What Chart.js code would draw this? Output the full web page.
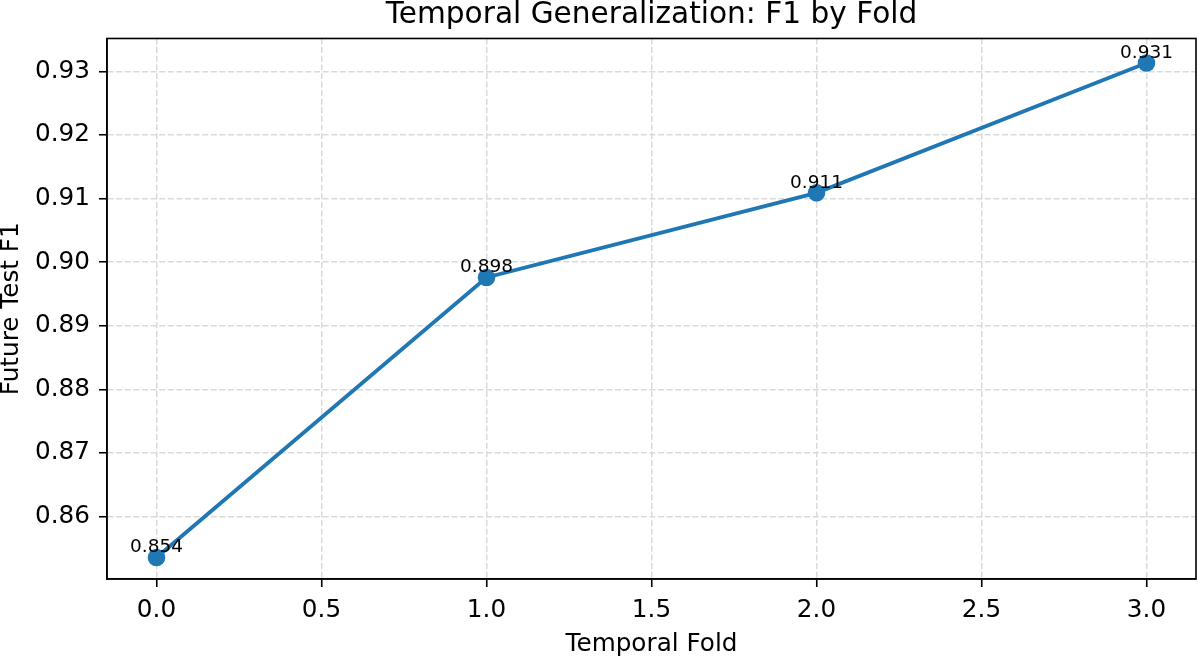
<!DOCTYPE html>
<html>
<head>
<meta charset="utf-8">
<script src="https://cdn.jsdelivr.net/npm/chart.js@4/dist/chart.umd.min.js"></script>
<style>
  html, body { margin: 0; padding: 0; background: #fff; }
  #wrap { width: 1198px; height: 659px; }
</style>
</head>
<body>
<div id="wrap"><canvas id="grafico" width="1198" height="659"></canvas></div>
<script>
// Dados do gráfico
const folds = [0, 1, 2, 3];
const f1Scores = [0.8536, 0.8976, 0.9109, 0.9313];
const xTicks = [0, 0.5, 1, 1.5, 2, 2.5, 3];
const yTicks = [0.86, 0.87, 0.88, 0.89, 0.90, 0.91, 0.92, 0.93];

const fonte = "'DejaVu Sans', sans-serif";
const azul = "#1f77b4";

// Moldura completa em volta da área do gráfico
const moldura = {
  id: "moldura",
  afterDraw(chart) {
    const { ctx, chartArea: a } = chart;
    ctx.save();
    ctx.strokeStyle = "#000";
    ctx.lineWidth = 1.6;
    ctx.strokeRect(a.left, a.top, a.right - a.left, a.bottom - a.top);
    ctx.restore();
  },
};

// Rótulos com o valor acima de cada ponto
const rotulos = {
  id: "rotulos",
  afterDatasetsDraw(chart) {
    const { ctx } = chart;
    const meta = chart.getDatasetMeta(0);
    ctx.save();
    ctx.font = "18.5px " + fonte;
    ctx.fillStyle = "#000";
    ctx.textAlign = "center";
    ctx.textBaseline = "alphabetic";
    meta.data.forEach((p, i) => {
      ctx.fillText(f1Scores[i].toFixed(3), p.x, p.y - 5);
    });
    ctx.restore();
  },
};

new Chart(document.getElementById("grafico"), {
  type: "line",
  data: {
    datasets: [
      {
        data: folds.map((f, i) => ({ x: f, y: f1Scores[i] })),
        borderColor: azul,
        backgroundColor: azul,
        borderWidth: 3.8,
        pointRadius: 8.8,
        pointBorderWidth: 0,
        pointBackgroundColor: azul,
        tension: 0,
      },
    ],
  },
  options: {
    responsive: false,
    animation: false,
    layout: { autoPadding: false, padding: { left: 0, right: 2, top: 0, bottom: 0 } },
    plugins: {
      legend: { display: false },
      tooltip: { enabled: false },
      title: {
        display: true,
        fullSize: false,
        text: "Temporal Generalization: F1 by Fold",
        color: "#000",
        font: { family: fonte, size: 29.6, weight: "normal", lineHeight: 1.05 },
        padding: { top: 0, bottom: 7.4 },
      },
    },
    scales: {
      x: {
        type: "linear",
        min: -0.15,
        max: 3.15,
        afterBuildTicks: (axis) => {
          axis.ticks = xTicks.map((v) => ({ value: v }));
        },
        afterFit: (axis) => {
          axis.height = 80;
          axis.paddingLeft = 0;
          axis.paddingRight = 0;
        },
        ticks: {
          color: "#000",
          padding: 9.2,
          font: { family: fonte, size: 24.7 },
          callback: (v) => Number(v).toFixed(1),
        },
        grid: {
          color: "#dadada",
          lineWidth: 1.5,
          drawTicks: true,
          tickLength: 8,
          tickColor: "#000",
          tickWidth: 1.6,
        },
        border: { display: true, color: "#000", width: 1.6, dash: [6, 2.6] },
        title: {
          display: true,
          text: "Temporal Fold",
          color: "#000",
          font: { family: fonte, size: 24.7, lineHeight: 1.2 },
          padding: { top: 0, bottom: 0 },
        },
      },
      y: {
        type: "linear",
        min: 0.85021,
        max: 0.93516,
        afterBuildTicks: (axis) => {
          axis.ticks = yTicks.map((v) => ({ value: v }));
        },
        afterFit: (axis) => {
          axis.width = 107;
          axis.paddingTop = 0;
          axis.paddingBottom = 0;
        },
        ticks: {
          color: "#000",
          padding: 9,
          font: { family: fonte, size: 24.7 },
          callback: (v) => Number(v).toFixed(2),
        },
        grid: {
          color: "#dadada",
          lineWidth: 1.5,
          drawTicks: true,
          tickLength: 8,
          tickColor: "#000",
          tickWidth: 1.6,
        },
        border: { display: true, color: "#000", width: 1.6, dash: [6, 2.6] },
        title: {
          display: true,
          text: "Future Test F1",
          color: "#000",
          font: { family: fonte, size: 24.7, lineHeight: 0.9 },
          padding: { top: 0, bottom: 0 },
        },
      },
    },
  },
  plugins: [moldura, rotulos],
});
</script>
</body>
</html>
